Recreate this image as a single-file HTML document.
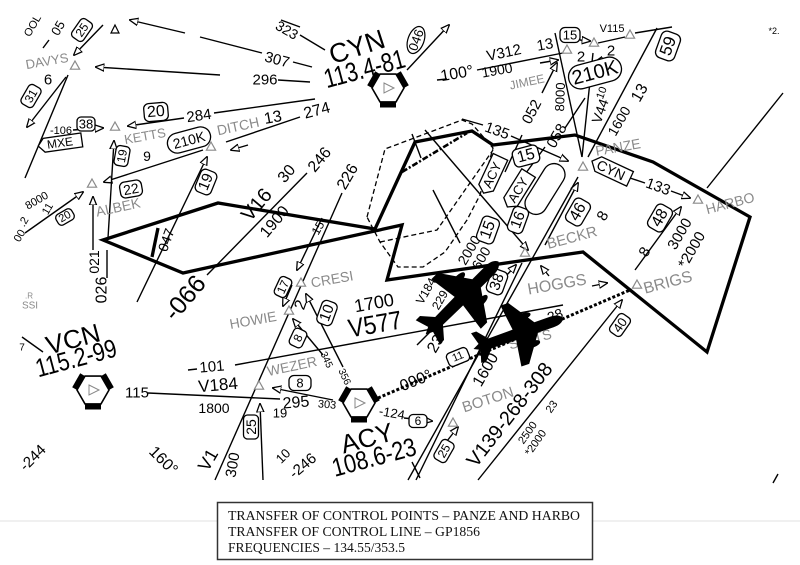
<!DOCTYPE html>
<html><head><meta charset="utf-8">
<style>
html,body{margin:0;padding:0;background:#fff;}
svg{display:block;}
text{font-family:"Liberation Sans","DejaVu Sans",sans-serif;text-anchor:middle;dominant-baseline:central;fill:#000;}
text.st{text-anchor:start;}
.g{fill:#8a8a8a;}
.ln{stroke:#000;stroke-width:1.4;fill:none;}
.th{stroke:#000;stroke-width:3.3;fill:none;stroke-linejoin:miter;}
.bx{fill:#fff;stroke:#000;stroke-width:1.3;}
.tri{fill:#fff;stroke:#8a8a8a;stroke-width:1.2;}
.sf{font-family:"Liberation Serif","DejaVu Serif",serif;text-anchor:start;dominant-baseline:auto;font-size:13.7px;fill:#111;}
</style></head><body>
<svg width="800" height="565" viewBox="0 0 800 565" xmlns="http://www.w3.org/2000/svg">
<defs>
<marker id="ar" viewBox="0 0 10 10" refX="9" refY="5" markerWidth="6.5" markerHeight="6.5" orient="auto"><path d="M0,1 L10,5 L0,9 Z" fill="#fff" stroke="#000" stroke-width="1.4"/></marker>
<g id="vor">
<polygon points="16,0 8,13.9 -8,13.9 -16,0 -8,-13.9 8,-13.9" fill="#fff" stroke="#000" stroke-width="1.6"/>
<polygon points="8,13.9 -8,13.9 -8,19.5 8,19.5" fill="#000"/>
<polygon points="8,-13.9 16,0 20.8,-2.8 12.8,-16.7" fill="#000"/>
<polygon points="-16,0 -8,-13.9 -12.8,-16.7 -20.8,-2.8" fill="#000"/>
<polygon points="-4,-5 6,0 -4,5" fill="none" stroke="#888" stroke-width="1"/>
</g>
<g id="plane">
<path d="M53,0 C51,-4 47,-6 40,-6 L22,-6 L2,-35 L-7,-35 L-3,-6 L-31,-5.5 L-41,-17 L-47,-17 L-43,-3.5 L-50,0 L-43,3.5 L-47,17 L-41,17 L-31,5.5 L-3,6 L-7,35 L2,35 L22,6 L40,6 C47,6 51,4 53,0 Z" fill="#000"/>
<ellipse cx="13" cy="-16" rx="8" ry="3.5" fill="#000"/>
<ellipse cx="13" cy="16" rx="8" ry="3.5" fill="#000"/>
</g>
<polygon id="tr" points="0,-5 4.6,3.2 -4.6,3.2" class="tri"/>
</defs>

<line x1="0" y1="521" x2="800" y2="521" stroke="#e0e0e0" stroke-width="1"/>

<path d="M367,217 L385,149 L462,120 L472,124 L493,148 L480,195 L467,220 L445,252 L423,267 L398,267 L380,242 Z" fill="none" stroke="#000" stroke-width="1.3" stroke-dasharray="5,3"/>
<path d="M380,242 L437,230 L493,150" fill="none" stroke="#000" stroke-width="1.3" stroke-dasharray="5,3"/>
<path d="M402,172 L467,133" fill="none" stroke="#000" stroke-width="2.6" stroke-dasharray="6,2,2,2"/>

<g class="ln">
<path d="M103,25 L74,55" marker-end="url(#ar)"/>
<path d="M68,75 L25,178"/>
<path d="M66,77 L27,127" marker-end="url(#ar)"/>
<path d="M220,75 L96,67" marker-end="url(#ar)"/>
<path d="M278,80 L310,82"/>
<path d="M185,33 L130,20" marker-end="url(#ar)"/>
<path d="M200,37 L262,53"/>
<path d="M293,62 L312,67"/>
<path d="M300,35 L325,50"/>
<path d="M281,20 L300,27"/>
<path d="M73,130 L103,128" marker-end="url(#ar)"/>
<path d="M315,99 L214,113"/>
<path d="M184,118 L128,126" marker-end="url(#ar)"/>
<path d="M226,142 L300,117"/>
<path d="M248,145 L231,150" marker-end="url(#ar)"/>
<path d="M203,150 L104,182" marker-end="url(#ar)"/>
<path d="M108,238 L114,141" marker-end="url(#ar)"/>
<path d="M137,302 L207,157" marker-end="url(#ar)"/>
<path d="M93,250 L93,197" marker-end="url(#ar)"/>
<path d="M107,250 L107,278"/>
<path d="M25,233 L83,192" marker-end="url(#ar)"/>
<path d="M207,275 L307,173"/>
<path d="M342,193 L215,480"/>
<path d="M322,218 L297,270" marker-end="url(#ar)"/>
<path d="M343,367 L306,294" marker-end="url(#ar)"/>
<path d="M323,355 L293,319" marker-end="url(#ar)"/>
<path d="M292,285 L283,306" marker-end="url(#ar)"/>
<path d="M235,365 L563,305"/>
<path d="M148,393 L280,399"/>
<path d="M333,400 L273,388" marker-end="url(#ar)"/>
<path d="M263,480 L260,404" marker-end="url(#ar)"/>
<path d="M188,370 L197,369"/>
<path d="M22,337 L43,352"/>
<path d="M404,418 L432,421" marker-end="url(#ar)"/>
<path d="M412,462 L420,478"/>
<path d="M408,480 L578,177"/>
<path d="M416,480 L522,263"/>
<path d="M478,480 L622,300" marker-end="url(#ar)"/>
<path d="M447,441 L458,427" marker-end="url(#ar)"/>
<path d="M417,345 L440,322"/>
<path d="M545,245 L578,183" marker-end="url(#ar)"/>
<path d="M635,270 L681,207" marker-end="url(#ar)"/>
<path d="M630,178 L645,183"/>
<path d="M671,191 L690,198" marker-end="url(#ar)"/>
<path d="M707,188 L783,93"/>
<path d="M505,172 L522,135"/>
<path d="M542,93 L557,63" marker-end="url(#ar)"/>
<path d="M555,33 L582,157"/>
<path d="M593,53 L582,157"/>
<path d="M657,28 L588,157"/>
<path d="M462,119 L483,125"/>
<path d="M511,136 L568,161" marker-end="url(#ar)"/>
<path d="M523,177 L545,147"/>
<path d="M565,128 L585,98"/>
<path d="M425,130 L528,250" marker-end="url(#ar)"/>
<path d="M433,190 L460,243"/>
<path d="M412,134 L421,158"/>
<path d="M477,70 L568,52"/>
<path d="M540,63 L558,60" marker-end="url(#ar)"/>
<path d="M407,70 L449,25" marker-end="url(#ar)"/>
<path d="M580,40 L590,41" marker-end="url(#ar)"/>
<path d="M635,33 L672,27"/>
<path d="M598,43 L625,37"/>
<path d="M612,58 L595,62" marker-end="url(#ar)"/>
<path d="M592,286 L607,283" marker-end="url(#ar)"/>
<path d="M549,276 L541,266" marker-end="url(#ar)"/>
<path d="M506,276 L516,265" marker-end="url(#ar)"/>
<path d="M773,483 L778,474"/>
<path d="M43,48 L49,40"/>
<path d="M437,80 L447,79"/>
</g>

<path class="th" d="M103,240 L218,203 L375,229 L415,142 L472,131 L493,145 L575,135 L653,162 L750,217 L707,352 L583,252 L387,280 L402,225 L183,273 Z"/>
<path class="th" d="M158,228 L152,257"/>

<path d="M378,398 L630,290" fill="none" stroke="#000" stroke-width="3" stroke-dasharray="3,2"/>

<rect x="-28" y="-11" width="56" height="22" rx="11" fill="none" stroke="#000" stroke-width="1.3" transform="translate(545,189) rotate(-58)"/>

<polygon points="115,25 119,33 111,33" fill="#fff" stroke="#000" stroke-width="1.2"/>
<use href="#tr" x="75" y="66"/>
<use href="#tr" x="115" y="127"/>
<use href="#tr" x="211" y="147"/>
<use href="#tr" x="92" y="184"/>
<use href="#tr" x="301" y="283"/>
<use href="#tr" x="289" y="311"/>
<use href="#tr" x="259" y="386"/>
<use href="#tr" x="453" y="423"/>
<use href="#tr" x="583" y="167"/>
<use href="#tr" x="698" y="200"/>
<use href="#tr" x="525" y="253"/>
<use href="#tr" x="637" y="285"/>
<use href="#tr" x="567" y="50"/>
<use href="#tr" x="594" y="43"/>
<use href="#tr" x="630" y="35"/>

<use href="#vor" transform="translate(388,88)"/>
<use href="#vor" transform="translate(93,390)"/>
<use href="#vor" transform="translate(359,403)"/>

<text transform="translate(33,26) rotate(-60)" font-size="11">OOL</text>
<text transform="translate(58,28) rotate(-60)" font-size="13">05</text>
<g transform="translate(82,30) rotate(-55)"><rect x="-11" y="-7" width="22" height="14" rx="4" class="bx"/><text font-size="12">25</text></g>
<text class="g" transform="translate(47,61) rotate(-10)" font-size="13">DAVYS</text>
<text transform="translate(48,80)" font-size="15">6</text>
<g transform="translate(31,96) rotate(-60)"><rect x="-11" y="-7" width="22" height="14" rx="4" class="bx"/><text font-size="12">31</text></g>
<text transform="translate(277,60) rotate(15)" font-size="15">307</text>
<text transform="translate(287,30) rotate(30)" font-size="14">323</text>
<text transform="translate(265,80)" font-size="15">296</text>
<text transform="translate(357,47) rotate(-18)" font-size="27">CYN</text>
<text class="st" x="-41" transform="translate(364,69) rotate(-15)" font-size="27" textLength="83" lengthAdjust="spacingAndGlyphs">113.4-81</text>
<g transform="translate(416,40) rotate(-70)"><ellipse rx="14" ry="8" fill="#fff" stroke="#000" stroke-width="1.2"/><text font-size="13">046</text></g>
<text transform="translate(457,74) rotate(-10)" font-size="16">100°</text>
<text transform="translate(504,53) rotate(-12)" font-size="15">V312</text>
<text transform="translate(545,45) rotate(-10)" font-size="15">13</text>
<text transform="translate(497,70) rotate(-10)" font-size="14">1900</text>
<text class="g" transform="translate(527,82) rotate(-12)" font-size="12">JIMEE</text>

<g transform="translate(60,143) rotate(-8)"><path d="M-22,0 L-16,-7 L22,-7 L22,7 L-16,7 Z" class="bx"/><text font-size="12">MXE</text></g>
<text transform="translate(61,131)" font-size="11">-106</text>
<g transform="translate(86,124)"><rect x="-9" y="-7" width="18" height="14" rx="4" class="bx"/><text font-size="13">38</text></g>
<text class="g" transform="translate(145,136) rotate(-10)" font-size="13">KETTS</text>
<g transform="translate(156,112) rotate(-5)"><rect x="-12" y="-9" width="24" height="18" rx="5" class="bx"/><text font-size="16">20</text></g>
<text transform="translate(199,116) rotate(-8)" font-size="15">284</text>
<g transform="translate(189,140) rotate(-15)"><rect x="-22" y="-10" width="44" height="20" rx="10" class="bx"/><text font-size="14">210K</text></g>
<text class="g" transform="translate(238,126) rotate(-12)" font-size="14">DITCH</text>
<text transform="translate(273,118) rotate(-10)" font-size="16">13</text>
<text transform="translate(317,111) rotate(-15)" font-size="16">274</text>
<text transform="translate(147,156)" font-size="14">9</text>
<g transform="translate(131,189) rotate(-10)"><rect x="-11" y="-8" width="22" height="16" rx="5" class="bx"/><text font-size="14">22</text></g>
<text class="g" transform="translate(118,207) rotate(-12)" font-size="14">ALBEK</text>
<g transform="translate(122,156) rotate(-80)"><rect x="-10" y="-7" width="20" height="14" rx="4" class="bx"/><text font-size="12">19</text></g>
<g transform="translate(206,182) rotate(-68)"><rect x="-12" y="-8.5" width="24" height="17" rx="5" class="bx"/><text font-size="15">19</text></g>
<text transform="translate(37,201) rotate(-30)" font-size="11">8000</text>
<text transform="translate(48,209) rotate(-60)" font-size="11">11</text>
<text transform="translate(24,222) rotate(-60)" font-size="11">.2</text>
<g transform="translate(65,217) rotate(-30)"><rect x="-9" y="-6" width="18" height="12" rx="4" class="bx"/><text font-size="11">20</text></g>
<text transform="translate(20,236) rotate(-60)" font-size="11">00</text>
<text transform="translate(166,240) rotate(-70)" font-size="14">047</text>
<text transform="translate(94,262) rotate(-90)" font-size="14">021</text>
<text transform="translate(102,290) rotate(-90)" font-size="16">026</text>
<text transform="translate(185,298) rotate(-50)" font-size="25">-066</text>
<text transform="translate(257,205) rotate(-50)" font-size="20">V16</text>
<text transform="translate(275,222) rotate(-50)" font-size="16">1900</text>
<text transform="translate(287,174) rotate(-50)" font-size="16">30</text>
<text transform="translate(320,160) rotate(-50)" font-size="16">246</text>
<text transform="translate(348,177) rotate(-60)" font-size="16">226</text>
<text transform="translate(318,228) rotate(-60)" font-size="12">15</text>

<text class="g" transform="translate(332,279) rotate(-10)" font-size="14">CRESI</text>
<g transform="translate(283,287) rotate(-65)"><rect x="-10" y="-6.5" width="20" height="13" rx="4" class="bx"/><text font-size="12">17</text></g>
<text class="g" transform="translate(253,320) rotate(-10)" font-size="14">HOWIE</text>
<text transform="translate(301,305) rotate(-70)" font-size="16">2</text>
<g transform="translate(327,313) rotate(-70)"><rect x="-12" y="-8" width="24" height="16" rx="5" class="bx"/><text font-size="15">10</text></g>
<g transform="translate(298,338) rotate(-65)"><rect x="-9" y="-7" width="18" height="14" rx="4" class="bx"/><text font-size="12">8</text></g>
<text transform="translate(326,360) rotate(65)" font-size="10">345</text>
<text transform="translate(344,377) rotate(65)" font-size="10">356</text>
<text transform="translate(374,303) rotate(-10)" font-size="18">1700</text>
<text class="st" x="-27" transform="translate(375,324) rotate(-10)" font-size="26" textLength="54" lengthAdjust="spacingAndGlyphs">V577</text>
<text transform="translate(212,367) rotate(-5)" font-size="15">101</text>
<text transform="translate(218,385) rotate(-5)" font-size="17">V184</text>
<text transform="translate(214,408)" font-size="14">1800</text>
<text transform="translate(137,393)" font-size="15">115</text>
<text class="g" transform="translate(292,366) rotate(-12)" font-size="14">WEZER</text>
<g transform="translate(300,383)"><rect x="-11" y="-7.5" width="22" height="15" rx="5" class="bx"/><text font-size="13">8</text></g>
<text transform="translate(296,403) rotate(-5)" font-size="16">295</text>
<text transform="translate(327,405) rotate(5)" font-size="11">303</text>
<text transform="translate(280,413)" font-size="13">19</text>
<g transform="translate(251,427) rotate(-90)"><rect x="-12" y="-7.5" width="24" height="15" rx="4" class="bx"/><text font-size="14">25</text></g>
<text transform="translate(208,460) rotate(-60)" font-size="18">V1</text>
<text transform="translate(233,465) rotate(-80)" font-size="15">300</text>
<text transform="translate(283,456) rotate(-45)" font-size="13">10</text>
<text transform="translate(303,466) rotate(-40)" font-size="15">-246</text>
<text transform="translate(163,461) rotate(45)" font-size="16">160°</text>
<text transform="translate(33,458) rotate(-45)" font-size="15">-244</text>
<text transform="translate(73,339) rotate(-15)" font-size="26">VCN</text>
<text class="st" x="-41.5" transform="translate(76,358) rotate(-15)" font-size="26" textLength="83" lengthAdjust="spacingAndGlyphs">115.2-99</text>
<text class="g" transform="translate(30,306)" font-size="10">SSI</text>
<text class="g" transform="translate(29,296)" font-size="8">.R</text>
<text transform="translate(22,348)" font-size="10">7</text>

<text transform="translate(416,381) rotate(-22)" font-size="16">090°</text>
<g transform="translate(458,357) rotate(-22)"><rect x="-11" y="-7" width="22" height="14" rx="4" class="bx"/><text font-size="11">11</text></g>
<text transform="translate(392,413) rotate(10)" font-size="13">-124</text>
<g transform="translate(418,421)"><rect x="-9" y="-6.5" width="18" height="13" rx="4" class="bx"/><text font-size="12">6</text></g>
<text transform="translate(367,438) rotate(-15)" font-size="26">ACY</text>
<text class="st" x="-43" transform="translate(374,457) rotate(-15)" font-size="26" textLength="86" lengthAdjust="spacingAndGlyphs">108.6-23</text>

<text transform="translate(426,291) rotate(-60)" font-size="12">V184</text>
<text transform="translate(440,300) rotate(-60)" font-size="12">229</text>
<text transform="translate(469,250) rotate(-60)" font-size="14">2000</text>
<text transform="translate(481,258) rotate(-60)" font-size="14">600</text>
<g transform="translate(488,230) rotate(-70)"><rect x="-13" y="-9" width="26" height="18" rx="5" class="bx"/><text font-size="16">15</text></g>
<g transform="translate(518,220) rotate(-70)"><rect x="-13" y="-8" width="26" height="16" rx="5" class="bx"/><text font-size="15">16</text></g>
<g transform="translate(492,175) rotate(-65)"><path d="M-20,0 L-14,-8 L20,-8 L20,8 L-14,8 Z" class="bx"/><text font-size="13">ACY</text></g>
<g transform="translate(518,190) rotate(-58)"><path d="M-20,0 L-14,-8 L20,-8 L20,8 L-14,8 Z" class="bx"/><text font-size="13">ACY</text></g>
<g transform="translate(526,156) rotate(-15)"><rect x="-13" y="-9" width="26" height="18" rx="5" class="bx"/><text font-size="16">15</text></g>
<text transform="translate(532,112) rotate(-62)" font-size="15">052</text>
<text transform="translate(560,97) rotate(-88)" font-size="13">8000</text>
<text transform="translate(557,136) rotate(-60)" font-size="15">058</text>
<text transform="translate(497,131) rotate(20)" font-size="15">135</text>
<text transform="translate(600,111) rotate(-70)" font-size="14">V44</text>
<text transform="translate(602,93) rotate(-70)" font-size="11">10</text>
<text transform="translate(619,121) rotate(-60)" font-size="14">1600</text>
<text transform="translate(640,93) rotate(-60)" font-size="16">13</text>
<text class="g" transform="translate(618,147) rotate(-10)" font-size="14">PANZE</text>
<g transform="translate(611,170) rotate(25)"><path d="M-21,0 L-14,-8 L21,-8 L21,8 L-14,8 Z" class="bx"/><text font-size="14">CYN</text></g>
<text transform="translate(658,187) rotate(20)" font-size="15">133</text>
<text class="g" transform="translate(730,203) rotate(-15)" font-size="14">HARBO</text>
<g transform="translate(578,212) rotate(-60)"><rect x="-13" y="-9" width="26" height="18" rx="5" class="bx"/><text font-size="16">46</text></g>
<text transform="translate(603,216) rotate(-60)" font-size="15">8</text>
<text class="g" transform="translate(572,238) rotate(-15)" font-size="15">BECKR</text>
<g transform="translate(660,218) rotate(-60)"><rect x="-13" y="-9" width="26" height="18" rx="5" class="bx"/><text font-size="16">48</text></g>
<text transform="translate(645,252) rotate(-60)" font-size="15">8</text>
<text transform="translate(680,234) rotate(-60)" font-size="15">3000</text>
<text transform="translate(692,250) rotate(-60)" font-size="15">*2000</text>
<text class="g" transform="translate(557,285) rotate(-10)" font-size="16">HOGGS</text>
<text class="g" transform="translate(668,283) rotate(-15)" font-size="16">BRIGS</text>
<g transform="translate(497,282) rotate(-70)"><rect x="-12" y="-8.5" width="24" height="17" rx="5" class="bx"/><text font-size="15">38</text></g>
<g transform="translate(620,325) rotate(-55)"><rect x="-11" y="-7" width="22" height="14" rx="4" class="bx"/><text font-size="13">40</text></g>
<text class="st" x="-63" transform="translate(510,415) rotate(-52)" font-size="20" textLength="126" lengthAdjust="spacingAndGlyphs">V139-268-308</text>
<text transform="translate(486,370) rotate(-60)" font-size="16">1600</text>
<text class="g" transform="translate(488,400) rotate(-18)" font-size="15">BOTON</text>
<g transform="translate(444,451) rotate(-60)"><rect x="-11" y="-7" width="22" height="14" rx="4" class="bx"/><text font-size="12">25</text></g>
<text transform="translate(436,344) rotate(-60)" font-size="16">23</text>
<text transform="translate(528,433) rotate(-55)" font-size="11">2500</text>
<text transform="translate(536,443) rotate(-55)" font-size="11">*2000</text>
<text transform="translate(552,407) rotate(-55)" font-size="11">23</text>
<text transform="translate(555,315) rotate(-20)" font-size="14">28</text>
<text class="g" transform="translate(530,339) rotate(-15)" font-size="14">SPATS</text>

<g transform="translate(570,35)"><rect x="-10" y="-7.5" width="20" height="15" rx="5" class="bx"/><text font-size="13">15</text></g>
<text transform="translate(581,57)" font-size="15">2</text>
<text transform="translate(611,51)" font-size="15">2</text>
<g transform="translate(595,73) rotate(-15)"><rect x="-27" y="-12" width="54" height="24" rx="12" class="bx"/><text font-size="20">210K</text></g>
<text transform="translate(612,29)" font-size="11" fill="#333">V115</text>
<g transform="translate(668,46) rotate(-70)"><rect x="-14" y="-10" width="28" height="20" rx="6" class="bx"/><text font-size="17">59</text></g>
<text transform="translate(774,31)" font-size="9">*2.</text>

<use href="#plane" transform="translate(461,299) rotate(-45)"/>
<use href="#plane" transform="translate(517,334) rotate(-19) scale(0.92)"/>

<rect x="217.5" y="502.5" width="375" height="57" fill="#fff" stroke="#333" stroke-width="1.5"/>
<text class="sf" x="228" y="520" textLength="352" lengthAdjust="spacingAndGlyphs">TRANSFER OF CONTROL POINTS – PANZE AND HARBO</text>
<text class="sf" x="228" y="536" textLength="252" lengthAdjust="spacingAndGlyphs">TRANSFER OF CONTROL LINE – GP1856</text>
<text class="sf" x="228" y="552" textLength="177" lengthAdjust="spacingAndGlyphs">FREQUENCIES – 134.55/353.5</text>
</svg>
</body></html>
